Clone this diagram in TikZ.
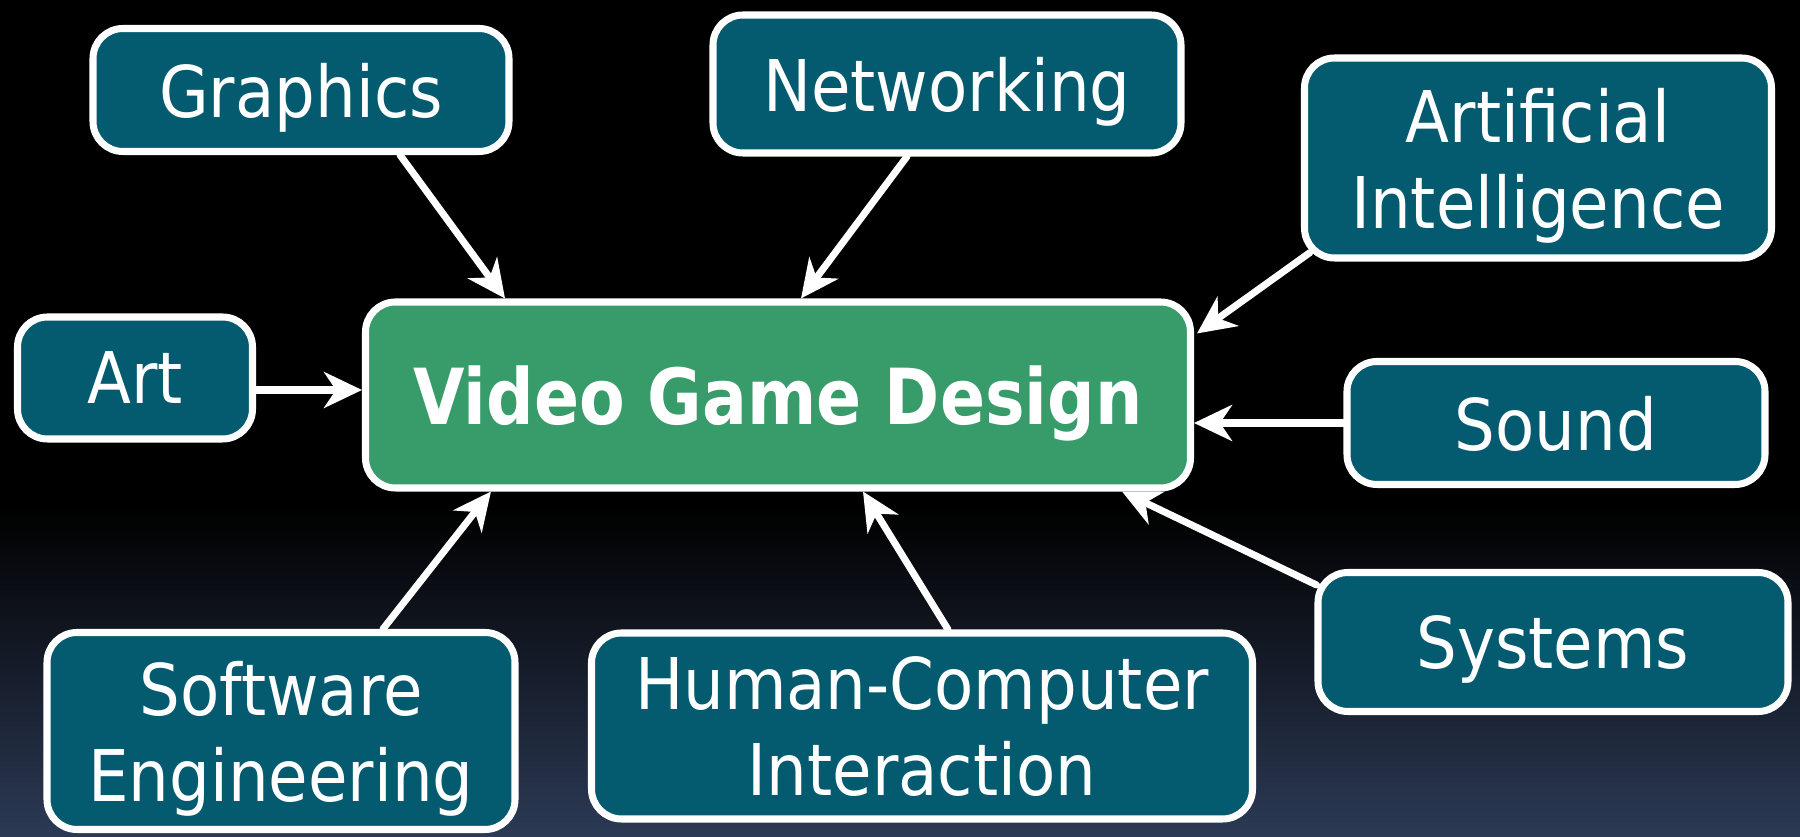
\documentclass[tikz,border=0pt]{standalone}
\usepackage{fontspec}
\setmainfont{DejaVu Sans}[FakeStretch=0.9, BoldFeatures={FakeStretch=0.86}]
\usetikzlibrary{arrows.meta}
\definecolor{boxteal}{HTML}{045A6E}
\definecolor{boxgreen}{HTML}{389B6A}
\definecolor{bgblue}{HTML}{2C3A55}

\begin{document}
\begin{tikzpicture}[>={Stealth[length=0.38cm,width=0.36cm,inset=0.12cm]}, line join=round, line cap=round,
	topic/.style={draw=white, line width=2pt, fill=boxteal, rounded corners=0.3cm, text=white, align=center,
		font=\fontsize{20.3}{24.5}\selectfont, inner sep=0pt, text depth=0pt},
	hub/.style={topic, fill=boxgreen, font=\fontsize{22}{26}\selectfont\bfseries},
	arr/.style={->, draw=white, line width=2pt}]
	% background
	\fill[black] (0,0) rectangle (18,8.37);
	\shade[top color=black, bottom color=bgblue] (0,0) rectangle (18,3.3);
	\useasboundingbox (0,0) rectangle (18,8.37);
	% boxes
	\node[hub, minimum width=8.25cm, minimum height=1.86cm] (vgd) at (7.78,4.42) {Video Game Design};
	\node[topic, minimum width=4.16cm, minimum height=1.23cm] (gra) at (3.01,7.47) {Graphics};
	\node[topic, minimum width=4.68cm, minimum height=1.38cm] (net) at (9.47,7.53) {Networking};
	\node[topic, minimum width=4.67cm, minimum height=2.00cm] (ai) at (15.38,6.79) {Artificial\\Intelligence};
	\node[topic, minimum width=2.35cm, minimum height=1.22cm] (art) at (1.35,4.59) {Art};
	\node[topic, minimum width=4.18cm, minimum height=1.23cm] (snd) at (15.56,4.14) {Sound};
	\node[topic, minimum width=4.68cm, minimum height=1.97cm] (se) at (2.81,1.06) {Software\\Engineering};
	\node[topic, minimum width=6.61cm, minimum height=1.86cm] (hci) at (9.22,1.11) {Human-Computer\\Interaction};
	\node[topic, minimum width=4.70cm, minimum height=1.39cm] (sys) at (15.53,1.95) {Systems};
	% arrows
	\draw[arr] ([xshift=0.99cm]gra.south) -- ([xshift=-2.73cm]vgd.north);
	\draw[arr] ([xshift=-0.40cm]net.south) -- ([xshift=0.23cm]vgd.north);
	\draw[arr] ([shift={(0.09,0.09)}]ai.south west) -- ([shift={(0.03,-0.35)}]vgd.north east);
	\draw[arr] ([yshift=-0.12cm]art.east) coordinate (a1) -- (a1 -| vgd.west);
	\draw[arr] (snd.west) -- (snd.west -| vgd.east);
	\draw[arr] ([xshift=1.02cm]se.north) -- ([xshift=-2.87cm]vgd.south);
	\draw[arr] ([xshift=0.26cm]hci.north) -- ([xshift=0.85cm]vgd.south);
	\draw[arr] ([shift={(0.02,-0.16)}]sys.north west) -- ([xshift=-0.72cm]vgd.south east);
\end{tikzpicture}
\end{document}
